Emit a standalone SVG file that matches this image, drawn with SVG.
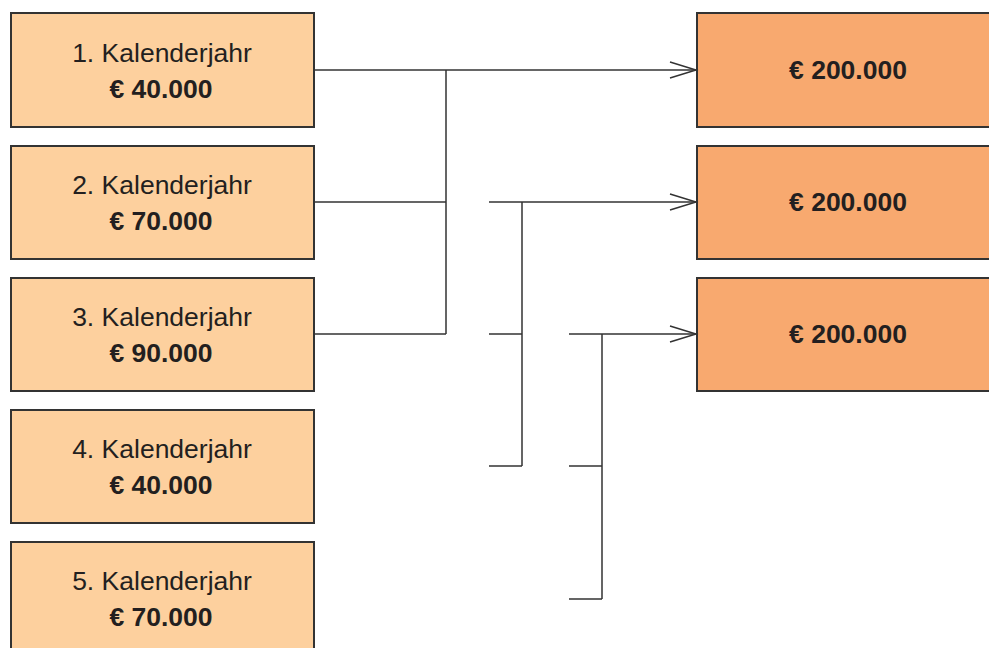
<svg xmlns="http://www.w3.org/2000/svg" width="989" height="648" viewBox="0 0 989 648">
<defs>
<style>
.y{fill:#fdd09e;stroke:#333;stroke-width:2}
.t{fill:#f8a96f;stroke:#333;stroke-width:2}
.l{font-family:"Liberation Sans",Arial,sans-serif;font-size:26.5px;fill:#231f20;text-anchor:middle}
.b{font-weight:bold}
.c{fill:none;stroke:#333;stroke-width:1.5}
</style>
<marker id="a" markerUnits="userSpaceOnUse" markerWidth="30" markerHeight="20" refX="27" refY="9" orient="auto" viewBox="0 0 30 20">
<path d="M1,1 L27,9 L1,17" fill="none" stroke="#333" stroke-width="1.5"/>
</marker>
</defs>
<rect width="989" height="648" fill="#fff"/>
<g id="n1"><rect class="y" x="11" y="13" width="303" height="114"/><text class="l" x="162" y="62">1. Kalenderjahr</text><text class="l b" x="161" y="98">€ 40.000</text></g>
<g id="n2"><rect class="y" x="11" y="146" width="303" height="113"/><text class="l" x="162" y="194">2. Kalenderjahr</text><text class="l b" x="161" y="230">€ 70.000</text></g>
<g id="n3"><rect class="y" x="11" y="278" width="303" height="113"/><text class="l" x="162" y="326">3. Kalenderjahr</text><text class="l b" x="161" y="362">€ 90.000</text></g>
<g id="n4"><rect class="y" x="11" y="410" width="303" height="113"/><text class="l" x="162" y="458">4. Kalenderjahr</text><text class="l b" x="161" y="494">€ 40.000</text></g>
<g id="n5"><rect class="y" x="11" y="542" width="303" height="120"/><text class="l" x="162" y="590">5. Kalenderjahr</text><text class="l b" x="161" y="626">€ 70.000</text></g>
<g id="r1"><rect class="t" x="697" y="13" width="300" height="114"/><text class="l b" x="848" y="79">€ 200.000</text></g>
<g id="r2"><rect class="t" x="697" y="146" width="300" height="113"/><text class="l b" x="848" y="211">€ 200.000</text></g>
<g id="r3"><rect class="t" x="697" y="278" width="300" height="113"/><text class="l b" x="848" y="343">€ 200.000</text></g>
<g id="connectors">
<path class="c" d="M314,70 H696" marker-end="url(#a)"/>
<path class="c" d="M314,202 H446 M314,334 H446 M446,70 V334"/>
<path class="c" d="M489,202 H696" marker-end="url(#a)"/>
<path class="c" d="M489,334 H522 M489,466 H522 M522,202 V466"/>
<path class="c" d="M569,334 H696" marker-end="url(#a)"/>
<path class="c" d="M569,466 H602 M569,599 H602 M602,334 V599"/>
</g>
</svg>
